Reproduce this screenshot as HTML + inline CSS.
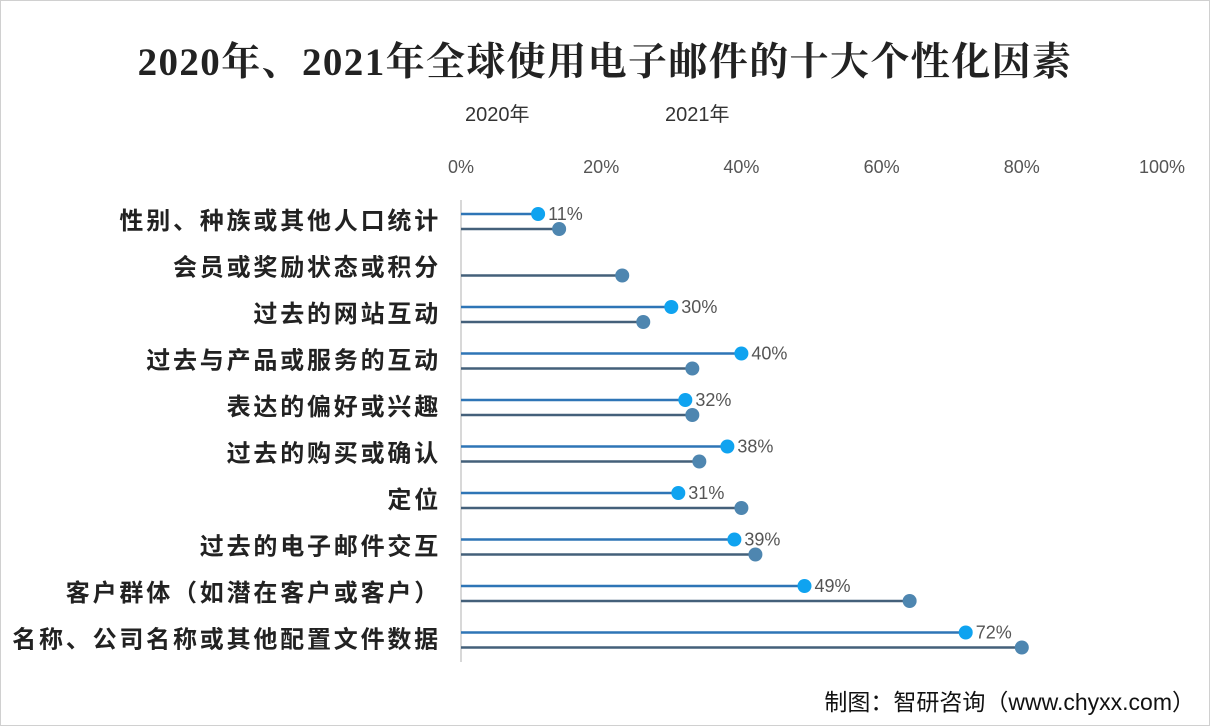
<!DOCTYPE html>
<html><head><meta charset="utf-8"><style>
body{margin:0;background:#fff;}
svg{display:block;font-family:"Liberation Sans","Noto Sans CJK SC",sans-serif;}
</style></head><body>
<svg id="c" width="1210" height="726">
<rect x="0.5" y="0.5" width="1209" height="725" fill="#fff" stroke="#d0d0d0"/>
<text x="605" y="75" text-anchor="middle" font-family="'Liberation Serif','Noto Serif CJK SC',serif" font-weight="bold" font-size="39" letter-spacing="1.4" fill="#222">2020年、2021年全球使用电子邮件的十大个性化因素</text>
<text x="465" y="121" font-size="20" fill="#333">2020年</text>
<text x="665" y="121" font-size="20" fill="#333">2021年</text>
<line x1="461" y1="200" x2="461" y2="662" stroke="#ccc" stroke-width="1.5"/>
<text x="1195" y="710" text-anchor="end" font-size="23" fill="#111">制图：智研咨询（www.chyxx.com）</text>
<g id="g"></g>
</svg>
<script>
const categories=["性别、种族或其他人口统计","会员或奖励状态或积分","过去的网站互动","过去与产品或服务的互动","表达的偏好或兴趣","过去的购买或确认","定位","过去的电子邮件交互","客户群体（如潜在客户或客户）","名称、公司名称或其他配置文件数据"];
const values2020=[11,null,30,40,32,38,31,39,49,72];
const values2021=[14,23,26,33,33,34,40,42,64,80];
const ticks=[0,20,40,60,80,100];
const NS="http://www.w3.org/2000/svg";
const g=document.getElementById('g');
const x=v=>461+v*7.01;
const rowY=i=>221+i*46.5;
function mk(t,a,p){const e=document.createElementNS(NS,t);for(const k in a)e.setAttribute(k,a[k]);(p||g).appendChild(e);return e;}
ticks.forEach(t=>{const e=mk('text',{x:x(t),y:173,'text-anchor':'middle','font-size':18,fill:'#555'});e.textContent=t+'%';

});
categories.forEach((c,i)=>{const y=rowY(i);
const l=mk('text',{x:441,y:y+8,'text-anchor':'end','font-size':24,'letter-spacing':2.8,'font-weight':'bold',fill:'#222'});l.textContent=c;


const v2=values2020[i];
if(v2!=null){const ln=mk('line',{x1:461,y1:y-7,x2:x(v2),y2:y-7,stroke:'#2e75b6','stroke-width':2.5});


const d=mk('circle',{cx:x(v2),cy:y-7,r:7,fill:'#0fa3f0'});


const t=mk('text',{x:x(v2)+10,y:y-1,'font-size':18,fill:'#555'});t.textContent=v2+'%';

}
const v1=values2021[i];
const ln2=mk('line',{x1:461,y1:y+8,x2:x(v1),y2:y+8,stroke:'#44607a','stroke-width':2.5});


const d2=mk('circle',{cx:x(v1),cy:y+8,r:7,fill:'#4e86b0'});


});
</script>
</body></html>
